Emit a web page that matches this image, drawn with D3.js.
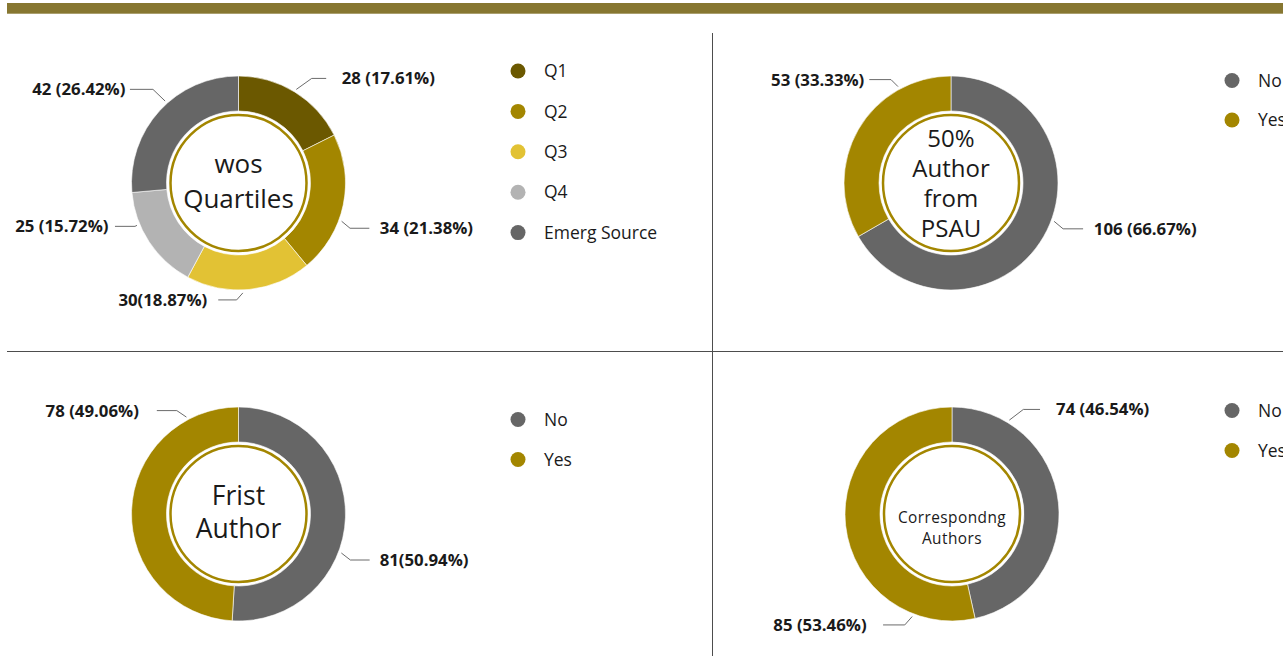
<!DOCTYPE html>
<html>
<head>
<meta charset="utf-8">
<script src="https://cdn.jsdelivr.net/npm/d3@7"></script>
<style>
  html, body { margin: 0; padding: 0; background: #fff; }
  svg { display: block; }
</style>
</head>
<body>
<svg id="chart" width="1283" height="656"></svg>
<script>
// ---- data ----
const quartileCategories = ["Q1", "Q2", "Q3", "Q4", "Emerg Source"];
const quartileValues = [28, 34, 30, 25, 42];

const yesNoCategories = ["No", "Yes"];
const psauValues = [106, 53];
const firstAuthorValues = [81, 78];
const correspondingValues = [74, 85];

// ---- palette ----
const quartileColors = ["#6b5800", "#a38600", "#e2c234", "#b3b3b3", "#666666"];
const yesNoColors = ["#666666", "#a38600"];

const W = 1283, H = 656;
const R_OUT = 107, R_IN = 72, RING_R = 68, ANCHOR_R = 110;
const FONT = "'Open Sans', 'Noto Sans', sans-serif";
const INK = "#1a1a1a";

const svg = d3.select("#chart");

// header band
svg.append("rect").attr("x", 7).attr("y", 3).attr("width", W - 7).attr("height", 10.7)
  .attr("fill", "#877731");

// quadrant dividers
svg.append("line").attr("x1", 712.5).attr("x2", 712.5).attr("y1", 33).attr("y2", H)
  .attr("stroke", "#4d4d4d").attr("stroke-width", 1);
svg.append("line").attr("x1", 7).attr("x2", W).attr("y1", 351.5).attr("y2", 351.5)
  .attr("stroke", "#4d4d4d").attr("stroke-width", 1);

// each panel: values, colors, centre position, centre title, label leaders, legend
const panels = [
  {
    cats: quartileCategories, values: quartileValues, colors: quartileColors,
    cx: 238.5, cy: 183,
    title: { lines: ["wos", "Quartiles"], size: 26, first: 173, step: 34.7, spacing: 0 },
    labels: [
      { t: 0.50, ex: 15.4, ey: -11, len: 14.5, gap: 15.5, side: 1 },
      { t: 0.61, ex: 8.4, ey: 7, len: 19.3, gap: 10.5, side: 1 },
      { t: 0.55, ex: -6.2, ey: 7, len: 18.4, gap: 11, side: -1, tight: true },
      { t: 0.69, ex: -2, ey: 1, len: 20, gap: 6.5, side: -1 },
      { t: 0.56, ex: -12.2, ey: -11.7, len: 23, gap: 4.5, side: -1 }
    ],
    legend: { x: 518, y: 71, step: 40.4 }
  },
  {
    cats: yesNoCategories, values: psauValues, colors: yesNoColors,
    cx: 951, cy: 183,
    title: { lines: ["50%", "Author", "from", "PSAU"], size: 24, first: 146.7, step: 30, spacing: 0 },
    labels: [
      { t: 0.46, ex: 9, ey: 7.5, len: 20, gap: 10.7, side: 1 },
      { t: 0.76, ex: -7, ey: -7, len: 21.7, gap: 5, side: -1 }
    ],
    legend: { x: 1232, y: 80.5, step: 39.5 }
  },
  {
    cats: yesNoCategories, values: firstAuthorValues, colors: yesNoColors,
    cx: 238.5, cy: 514,
    title: { lines: ["Frist", "Author"], size: 26.5, first: 505, step: 33.3, spacing: 0 },
    labels: [
      { t: 0.604, ex: 9, ey: 7, len: 19.3, gap: 10, side: 1, tight: true },
      { t: 0.84, ex: -9.6, ey: -6.5, len: 20, gap: 18, side: -1 }
    ],
    legend: { x: 518, y: 419.5, step: 40 }
  },
  {
    cats: yesNoCategories, values: correspondingValues, colors: yesNoColors,
    cx: 952, cy: 514,
    title: { lines: ["Correspondng", "Authors"], size: 15.4, first: 522.5, step: 21.3, spacing: 0.45 },
    labels: [
      { t: 0.1875, ex: 14, ey: -10.7, len: 16.7, gap: 16, side: 1 },
      { t: 0.175, ex: -7.4, ey: 8.4, len: 21.7, gap: 16.5, side: -1 }
    ],
    legend: { x: 1232, y: 410.5, step: 40 }
  }
];

const pie = d3.pie().sort(null).value(d => d);
const arc = d3.arc().innerRadius(R_IN).outerRadius(R_OUT);
const pctFmt = d3.format(".2f");

panels.forEach(p => {
  const total = d3.sum(p.values);
  const slices = pie(p.values);
  const g = svg.append("g").attr("transform", `translate(${p.cx},${p.cy})`);

  // donut slices
  g.selectAll("path.slice").data(slices).join("path")
    .attr("class", "slice")
    .attr("d", arc)
    .attr("fill", (d, i) => p.colors[i])
    .attr("stroke", "#ffffff").attr("stroke-width", 0.6);

  // inner gold ring
  g.append("circle").attr("r", RING_R).attr("fill", "none")
    .attr("stroke", "#a38600").attr("stroke-width", 2.5);

  // centre title
  g.selectAll("text.title").data(p.title.lines).join("text")
    .attr("class", "title")
    .attr("x", 0)
    .attr("y", (d, i) => p.title.first - p.cy + i * p.title.step)
    .attr("text-anchor", "middle")
    .attr("font-family", FONT).attr("font-size", p.title.size)
    .attr("letter-spacing", p.title.spacing)
    .attr("fill", INK)
    .text(d => d);

  // value labels with leader lines
  slices.forEach((s, i) => {
    const L = p.labels[i];
    const a = s.startAngle + L.t * (s.endAngle - s.startAngle);
    const ax = ANCHOR_R * Math.sin(a), ay = -ANCHOR_R * Math.cos(a);
    const bx = ax + L.ex, by = ay + L.ey;
    const cx2 = bx + L.side * L.len;
    g.append("polyline")
      .attr("points", [[ax, ay], [bx, by], [cx2, by]].map(q => q.join(",")).join(" "))
      .attr("fill", "none").attr("stroke", "#6b6b6b").attr("stroke-width", 1);
    const v = s.data;
    g.append("text")
      .attr("x", cx2 + L.side * L.gap)
      .attr("y", by)
      .attr("dy", "0.35em")
      .attr("text-anchor", L.side > 0 ? "start" : "end")
      .attr("font-family", FONT).attr("font-weight", 700).attr("font-size", 16.8)
      .attr("fill", INK)
      .text(`${v}${L.tight ? "" : " "}(${pctFmt(v / total * 100)}%)`);
  });

  // legend
  const lg = svg.append("g");
  const items = lg.selectAll("g").data(p.cats).join("g")
    .attr("transform", (d, i) => `translate(${p.legend.x},${p.legend.y + i * p.legend.step})`);
  items.append("circle").attr("r", 7.5).attr("fill", (d, i) => p.colors[i]);
  items.append("text")
    .attr("x", 26).attr("y", 0).attr("dy", "0.35em")
    .attr("font-family", FONT).attr("font-size", 17.5)
    .attr("fill", INK)
    .text(d => d);
});
</script>
</body>
</html>
